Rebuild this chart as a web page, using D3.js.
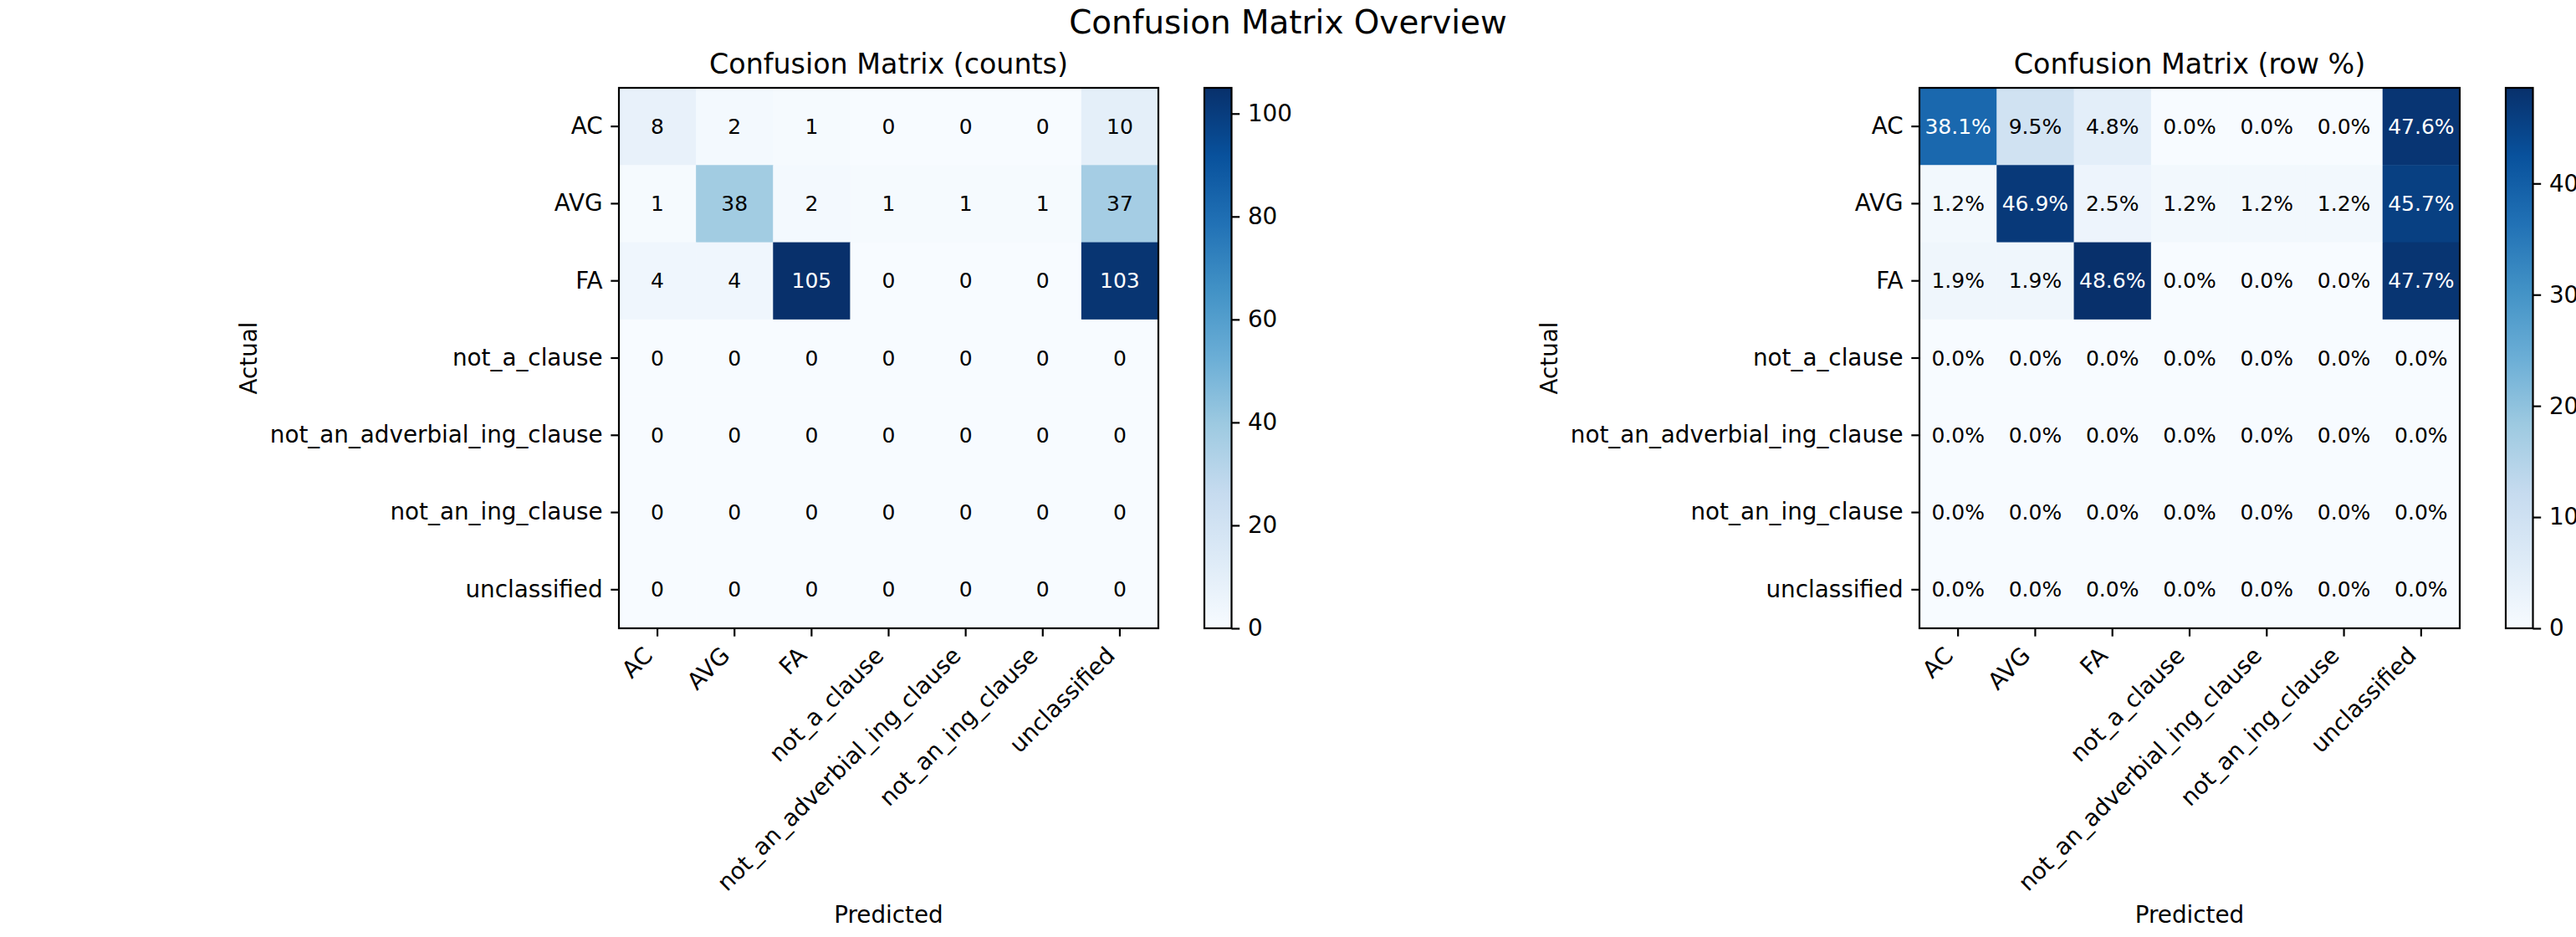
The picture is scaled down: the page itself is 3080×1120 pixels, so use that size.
<!DOCTYPE html>
<html>
<head>
<meta charset="utf-8">
<script src="https://cdn.jsdelivr.net/npm/d3@7/dist/d3.min.js"></script>
<style>
  html, body { margin: 0; padding: 0; background: #ffffff; }
  svg { display: block; font-family: "DejaVu Sans", sans-serif; }
</style>
</head>
<body>
<svg id="chart" width="3080" height="1120"></svg>
<script>
// ---------------- data ----------------
const categories = ["AC", "AVG", "FA", "not_a_clause", "not_an_adverbial_ing_clause", "not_an_ing_clause", "unclassified"];

const counts = [
  [8, 2, 1, 0, 0, 0, 10],
  [1, 38, 2, 1, 1, 1, 37],
  [4, 4, 105, 0, 0, 0, 103],
  [0, 0, 0, 0, 0, 0, 0],
  [0, 0, 0, 0, 0, 0, 0],
  [0, 0, 0, 0, 0, 0, 0],
  [0, 0, 0, 0, 0, 0, 0]
];

const rowPct = [
  [38.1, 9.5, 4.8, 0.0, 0.0, 0.0, 47.6],
  [1.2, 46.9, 2.5, 1.2, 1.2, 1.2, 45.7],
  [1.9, 1.9, 48.6, 0.0, 0.0, 0.0, 47.7],
  [0.0, 0.0, 0.0, 0.0, 0.0, 0.0, 0.0],
  [0.0, 0.0, 0.0, 0.0, 0.0, 0.0, 0.0],
  [0.0, 0.0, 0.0, 0.0, 0.0, 0.0, 0.0],
  [0.0, 0.0, 0.0, 0.0, 0.0, 0.0, 0.0]
];

const countTicks = [0, 20, 40, 60, 80, 100];
const pctTicks = [0, 10, 20, 30, 40];

const suptitle = "Confusion Matrix Overview";
const titles = ["Confusion Matrix (counts)", "Confusion Matrix (row %)"];
const xLabel = "Predicted";
const yLabel = "Actual";

// matplotlib "Blues" colormap anchors (linear segments)
const bluesAnchors = ["#f7fbff", "#deebf7", "#c6dbef", "#9ecae1", "#6baed6", "#4292c6", "#2171b5", "#08519c", "#08306b"];

// ---------------- layout ----------------
const svg = d3.select("#chart");
const TICK_FS = 27.8, ANN_FS = 25, TITLE_FS = 33.3, SUP_FS = 38.9;
const TICK_LEN = 9.7, TICK_PAD = 9.7, LW = 2.2;

svg.append("rect").attr("width", 3080).attr("height", 1120).attr("fill", "#fff");

svg.append("text")
  .attr("x", 1540).attr("y", 40)
  .attr("text-anchor", "middle")
  .attr("font-size", SUP_FS)
  .text(suptitle);

const panels = [
  { x0: 740, x1: 1385, data: counts, ticks: countTicks, fmt: d => String(d), title: titles[0] },
  { x0: 2295, x1: 2941, data: rowPct, ticks: pctTicks, fmt: d => d.toFixed(1) + "%", title: titles[1] }
];
const Y0 = 105, Y1 = 751;

const cmapPos = d3.range(bluesAnchors.length).map(i => i / (bluesAnchors.length - 1));
const cmap = d3.scaleLinear().domain(cmapPos).range(bluesAnchors).interpolate(d3.interpolateRgb).clamp(true);

const defs = svg.append("defs");

panels.forEach((p, pi) => {
  const vmax = d3.max(p.data.flat());
  const x = d3.scaleBand().domain(categories).range([p.x0, p.x1]).padding(0);
  const y = d3.scaleBand().domain(categories).range([Y0, Y1]).padding(0);
  const norm = d3.scaleLinear().domain([0, vmax]).range([0, 1]);
  const g = svg.append("g");

  // cells
  const cells = [];
  p.data.forEach((row, ri) => row.forEach((v, ci) => cells.push({ r: categories[ri], c: categories[ci], v })));
  g.selectAll("rect.cell").data(cells).join("rect")
    .attr("class", "cell")
    .attr("x", d => x(d.c)).attr("y", d => y(d.r))
    .attr("width", x.bandwidth() + 0.5).attr("height", y.bandwidth() + 0.5)
    .attr("fill", d => cmap(norm(d.v)));

  // annotations
  const thresh = vmax / 2;
  g.selectAll("text.ann").data(cells).join("text")
    .attr("class", "ann")
    .attr("x", d => x(d.c) + x.bandwidth() / 2)
    .attr("y", d => y(d.r) + y.bandwidth() / 2)
    .attr("text-anchor", "middle")
    .attr("dominant-baseline", "central")
    .attr("font-size", ANN_FS)
    .attr("fill", d => d.v > thresh ? "#ffffff" : "#000000")
    .text(d => p.fmt(d.v));

  // frame
  g.append("rect")
    .attr("x", p.x0).attr("y", Y0)
    .attr("width", p.x1 - p.x0).attr("height", Y1 - Y0)
    .attr("fill", "none").attr("stroke", "#000").attr("stroke-width", LW);

  // y axis
  const yAx = g.append("g").attr("transform", `translate(${p.x0},0)`)
    .call(d3.axisLeft(y).tickSize(TICK_LEN).tickPadding(TICK_PAD));
  yAx.select(".domain").remove();
  yAx.selectAll(".tick line").attr("stroke", "#000").attr("stroke-width", LW);
  yAx.selectAll(".tick text").attr("font-size", TICK_FS).attr("fill", "#000")
    .attr("font-family", "DejaVu Sans");

  // x axis ticks
  const xAx = g.append("g").attr("transform", `translate(0,${Y1})`)
    .call(d3.axisBottom(x).tickSize(TICK_LEN).tickFormat(""));
  xAx.select(".domain").remove();
  xAx.selectAll(".tick line").attr("stroke", "#000").attr("stroke-width", LW);

  // rotated x tick labels (matplotlib rotation=45, ha='right')
  const h = 0.968 * TICK_FS, dsc = 0.208 * TICK_FS;
  const topY = Y1 + TICK_LEN + TICK_PAD;
  g.selectAll("text.xt").data(categories).join("text")
    .attr("class", "xt")
    .attr("transform", d => `translate(${x(d) + x.bandwidth() / 2},${topY + 0.7071 * h}) rotate(-45)`)
    .attr("x", 0).attr("y", -dsc)
    .attr("text-anchor", "end")
    .attr("font-size", TICK_FS)
    .text(d => d);

  // axis labels
  g.append("text")
    .attr("x", (p.x0 + p.x1) / 2).attr("y", 1103)
    .attr("text-anchor", "middle").attr("font-size", TICK_FS)
    .text(xLabel);
  g.append("text")
    .attr("transform", `translate(${p.x0 - 443},${(Y0 + Y1) / 2}) rotate(-90)`)
    .attr("text-anchor", "middle").attr("dominant-baseline", "central")
    .attr("font-size", TICK_FS)
    .text(yLabel);

  // title
  g.append("text")
    .attr("x", (p.x0 + p.x1) / 2).attr("y", 88.3)
    .attr("text-anchor", "middle").attr("font-size", TITLE_FS)
    .text(p.title);

  // colorbar
  const cbX0 = p.x1 + 55, cbW = 32.5;
  const gradId = "grad" + pi;
  const grad = defs.append("linearGradient").attr("id", gradId)
    .attr("x1", 0).attr("y1", 1).attr("x2", 0).attr("y2", 0);
  grad.selectAll("stop").data(cmapPos).join("stop")
    .attr("offset", d => d)
    .attr("stop-color", d => cmap(d));
  const cy = d3.scaleLinear().domain([0, vmax]).range([Y1, Y0]);
  g.append("rect")
    .attr("x", cbX0).attr("y", Y0).attr("width", cbW).attr("height", Y1 - Y0)
    .attr("fill", `url(#${gradId})`);
  g.append("rect")
    .attr("x", cbX0).attr("y", Y0).attr("width", cbW).attr("height", Y1 - Y0)
    .attr("fill", "none").attr("stroke", "#000").attr("stroke-width", LW);
  const cAx = g.append("g").attr("transform", `translate(${cbX0 + cbW},0)`)
    .call(d3.axisRight(cy).tickValues(p.ticks).tickSize(TICK_LEN).tickPadding(TICK_PAD).tickFormat(d3.format("d")));
  cAx.select(".domain").remove();
  cAx.selectAll(".tick line").attr("stroke", "#000").attr("stroke-width", LW);
  cAx.selectAll(".tick text").attr("font-size", TICK_FS).attr("fill", "#000")
    .attr("font-family", "DejaVu Sans");
});
</script>
</body>
</html>
